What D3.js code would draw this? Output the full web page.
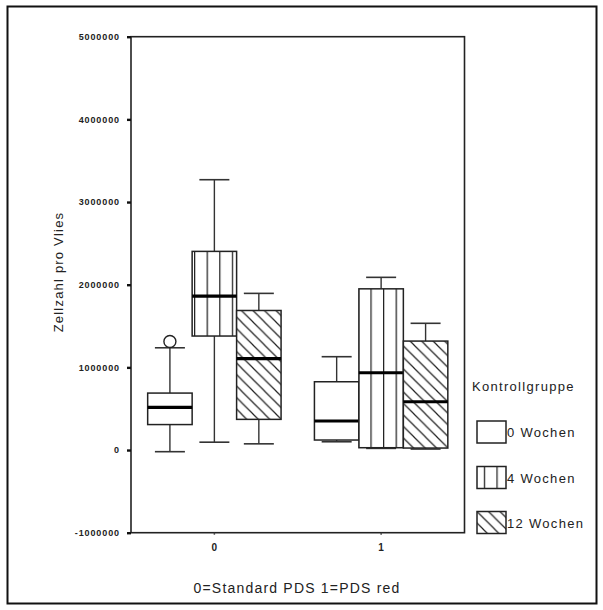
<!DOCTYPE html>
<html>
<head>
<meta charset="utf-8">
<script src="https://cdn.jsdelivr.net/npm/d3@7"></script>
<style>
  html, body { margin: 0; padding: 0; background: #fff; }
  svg { display: block; }
  text { font-family: Arial, "Liberation Sans", sans-serif; fill: #222; }
</style>
</head>
<body>
<svg id="chart" width="603" height="610"></svg>
<script>
// Groups on the x axis and the three control-group series
const groups = ["0", "1"];
const series = ["0 Wochen", "4 Wochen", "12 Wochen"];

// Box-plot statistics, one row per group, one entry per series
const whiskerLow  = [[-20000,   95000,   75000], [100000,   20000,   12000]];
const q1          = [[308000, 1379000,  371000], [121000,   28000,   24000]];
const median      = [[516000, 1863000, 1105000], [351000,  935000,  584000]];
const q3          = [[689000, 2403000, 1688000], [826000, 1950000, 1318000]];
const whiskerHigh = [[1237000, 3270000, 1895000], [1129000, 2089000, 1533000]];

// Single outlier above the upper whisker
const outlierGroup  = ["0"];
const outlierSeries = ["0 Wochen"];
const outlierValue  = [1312000];

// Axis ticks
const yTicks = [-1000000, 0, 1000000, 2000000, 3000000, 4000000, 5000000];
const yTickLabels = ["-1000000", "0", "1000000", "2000000", "3000000", "4000000", "5000000"];

const xTitle = "0=Standard PDS 1=PDS red";
const yTitle = "Zellzahl pro Vlies";
const legendTitle = "Kontrollgruppe";

const svg = d3.select("#chart");

// Outer frame
svg.append("rect")
  .attr("x", 7.5).attr("y", 6.5).attr("width", 589).attr("height", 597)
  .attr("fill", "none").attr("stroke", "#111").attr("stroke-width", 2);

const plot = { left: 131, right: 464.5, top: 36.7, bottom: 532.7 };

const x = d3.scaleBand().domain(groups).range([plot.left, plot.right]).paddingInner(0).paddingOuter(0);
const xs = d3.scaleBand().domain(series).range([0, x.bandwidth()]).paddingOuter(0.375).paddingInner(0);
const y = d3.scaleLinear().domain([-1000000, 5000000]).range([plot.bottom, plot.top]);

// Fill patterns
const defs = svg.append("defs");
const vp = defs.append("pattern").attr("id", "vlines")
  .attr("patternUnits", "userSpaceOnUse").attr("width", 12.6).attr("height", 10)
  .attr("x", 5);
vp.append("rect").attr("width", 12.6).attr("height", 10).attr("fill", "#fff");
vp.append("line").attr("x1", 0.6).attr("x2", 0.6).attr("y1", 0).attr("y2", 10)
  .attr("stroke", "#222").attr("stroke-width", 1.3);

const hp = defs.append("pattern").attr("id", "hatch")
  .attr("patternUnits", "userSpaceOnUse").attr("width", 11.5).attr("height", 11.5);
hp.append("rect").attr("width", 11.5).attr("height", 11.5).attr("fill", "#fff");
hp.append("path").attr("d", "M0,0 L11.5,11.5 M-2,9.5 L2,13.5 M9.5,-2 L13.5,2")
  .attr("stroke", "#222").attr("stroke-width", 1.2);

const fills = { "0 Wochen": "#fff", "4 Wochen": "url(#vlines)", "12 Wochen": "url(#hatch)" };

// Boxes
const rows = [];
groups.forEach((g, gi) => series.forEach((s, si) => rows.push({
  g, s,
  lo: whiskerLow[gi][si], q1: q1[gi][si], med: median[gi][si],
  q3: q3[gi][si], hi: whiskerHigh[gi][si]
})));

const capW = 30;
const box = svg.append("g").selectAll("g").data(rows).join("g");
box.each(function(d) {
  const gEl = d3.select(this);
  const x0 = x(d.g) + xs(d.s), w = xs.bandwidth(), cx = x0 + w / 2;
  // whiskers
  gEl.append("line").attr("x1", cx).attr("x2", cx).attr("y1", y(d.q3)).attr("y2", y(d.hi))
    .attr("stroke", "#333").attr("stroke-width", 1.4);
  gEl.append("line").attr("x1", cx).attr("x2", cx).attr("y1", y(d.q1)).attr("y2", y(d.lo))
    .attr("stroke", "#333").attr("stroke-width", 1.4);
  gEl.append("line").attr("x1", cx - capW / 2).attr("x2", cx + capW / 2).attr("y1", y(d.hi)).attr("y2", y(d.hi))
    .attr("stroke", "#333").attr("stroke-width", 1.6);
  gEl.append("line").attr("x1", cx - capW / 2).attr("x2", cx + capW / 2).attr("y1", y(d.lo)).attr("y2", y(d.lo))
    .attr("stroke", "#333").attr("stroke-width", 1.6);
  // box
  gEl.append("rect").attr("x", x0).attr("y", y(d.q3)).attr("width", w).attr("height", y(d.q1) - y(d.q3))
    .attr("fill", fills[d.s]).attr("stroke", "#222").attr("stroke-width", 1.5);
  // median
  gEl.append("line").attr("x1", x0).attr("x2", x0 + w).attr("y1", y(d.med)).attr("y2", y(d.med))
    .attr("stroke", "#000").attr("stroke-width", 3.2);
});

// Outliers
svg.append("g").selectAll("circle").data(outlierValue).join("circle")
  .attr("cx", (v, i) => x(outlierGroup[i]) + xs(outlierSeries[i]) + xs.bandwidth() / 2)
  .attr("cy", v => y(v))
  .attr("r", 6)
  .attr("fill", "none").attr("stroke", "#222").attr("stroke-width", 1.4);

// Plot frame
svg.append("rect")
  .attr("x", plot.left).attr("y", plot.top)
  .attr("width", plot.right - plot.left).attr("height", plot.bottom - plot.top)
  .attr("fill", "none").attr("stroke", "#222").attr("stroke-width", 1.6);

// Y axis
const yAxis = d3.axisLeft(y).tickValues(yTicks)
  .tickFormat((d, i) => yTickLabels[i]).tickSize(4).tickPadding(7);
const yg = svg.append("g").attr("transform", `translate(${plot.left},0)`).call(yAxis);
yg.select(".domain").remove();
yg.selectAll(".tick line").attr("stroke", "#111").attr("stroke-width", 2.4);
yg.selectAll(".tick text")
  .style("font-family", "Arial, 'Liberation Sans', sans-serif")
  .style("font-size", "9px").style("font-weight", "bold").style("letter-spacing", "0.9px")
  .attr("fill", "#222");

// X axis
const xAxis = d3.axisBottom(x).tickSize(2).tickPadding(9);
const xg = svg.append("g").attr("transform", `translate(0,${plot.bottom})`).call(xAxis);
xg.select(".domain").remove();
xg.selectAll(".tick line").attr("stroke", "#444").attr("stroke-width", 1.5);
xg.selectAll(".tick text")
  .style("font-family", "Arial, 'Liberation Sans', sans-serif")
  .style("font-size", "10px").style("font-weight", "bold")
  .attr("fill", "#222");

// Axis titles
svg.append("text")
  .attr("x", 297).attr("y", 593)
  .attr("text-anchor", "middle")
  .style("font-size", "14px").style("letter-spacing", "1.2px")
  .text(xTitle);

svg.append("text")
  .attr("transform", "translate(63,272) rotate(-90)")
  .attr("text-anchor", "middle")
  .style("font-size", "13px").style("letter-spacing", "1.2px")
  .text(yTitle);

// Legend
const legend = svg.append("g");
legend.append("text").attr("x", 472).attr("y", 391)
  .style("font-size", "13px").style("letter-spacing", "1.3px")
  .text(legendTitle);

const legendTop = [421, 466.5, 511.5];
const li = legend.selectAll("g.item").data(series).join("g").attr("class", "item");
li.append("rect")
  .attr("x", 477).attr("y", (d, i) => legendTop[i])
  .attr("width", 29).attr("height", 22)
  .attr("fill", d => fills[d]).attr("stroke", "#222").attr("stroke-width", 1.5);
li.append("text")
  .attr("x", 507).attr("y", (d, i) => legendTop[i] + 16)
  .style("font-size", "13px").style("letter-spacing", "1.3px")
  .text(d => d);
</script>
</body>
</html>
